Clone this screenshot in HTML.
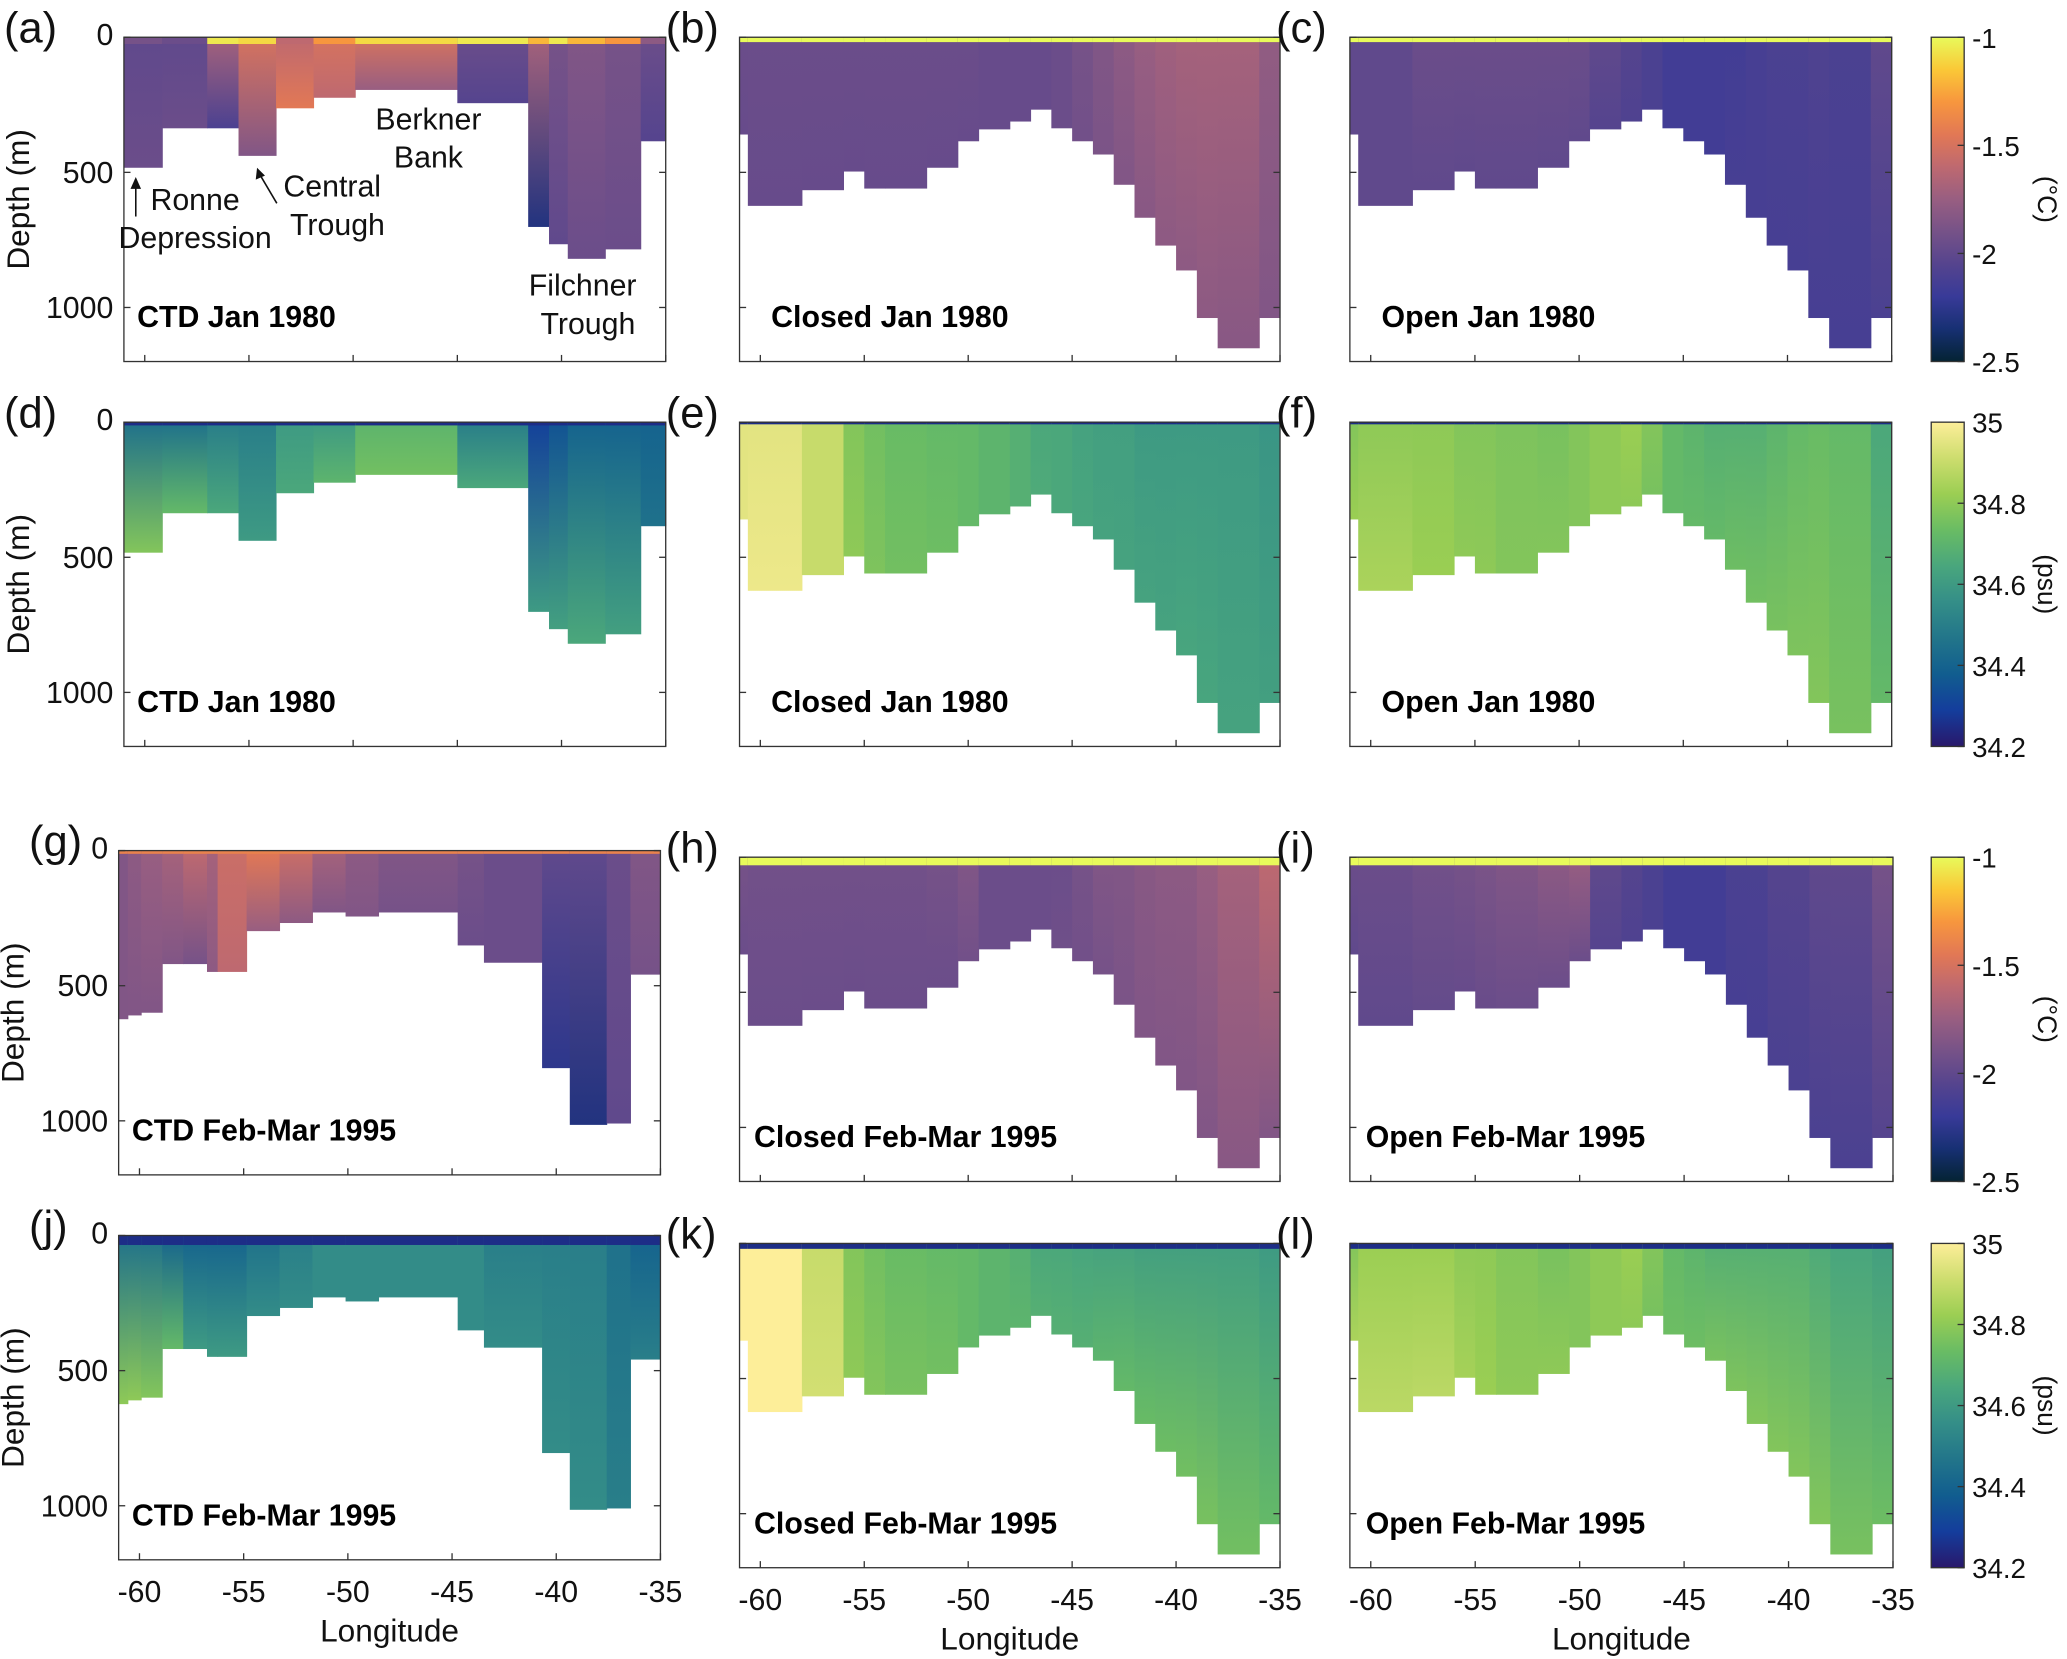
<!DOCTYPE html>
<html><head><meta charset="utf-8"><style>
html,body{margin:0;padding:0;background:#fff;}
svg{display:block;font-family:"Liberation Sans",sans-serif;}
</style></head><body>
<svg id="fig" width="2067" height="1659" viewBox="0 0 1568 1258" xmlns="http://www.w3.org/2000/svg">
<defs id="defs"></defs>
</svg>
<script>
// ---- data ----
const modelEdges = [-61,-60.6,-58,-56,-55,-54,-52,-50.5,-49.5,-48,-47,-46,-45,-44,-43,-42,-41,-40,-39,-38,-36,-35];
const modelBottom = [360,624,566,497,560,560,483,385,341,312,268,337,385,434,546,668,771,863,1039,1151,1039];
const ctd80Edges = [-61,-59.16,-57.0,-55.5,-53.7,-51.9,-49.9,-45.0,-41.6,-40.6,-39.7,-37.9,-36.2,-35.0];
const ctd80Bottom = [483,337,337,439,263,224,195,244,702,766,820,785,385];
const ctd95Edges = [-61,-60.56,-59.92,-58.91,-57.9,-56.76,-56.25,-54.86,-53.28,-51.7,-50.11,-48.53,-44.73,-43.47,-40.68,-39.35,-37.58,-36.44,-35];
const ctd95Bottom = [624,610,600,420,420,449,449,298,268,229,244,229,351,415,805,1015,1010,459];

const aSurf = [-1.9,-1.95,-1.05,-1.1,-1.6,-1.3,-1.1,-1.05,-1.2,-1.05,-1.2,-1.3,-1.8];
const aTop = [-2.0,-2.0,-1.7,-1.5,-1.6,-1.5,-1.5,-1.95,-1.7,-1.9,-1.85,-1.9,-1.95];
const aBot = [-1.95,-1.95,-2.1,-1.85,-1.45,-1.6,-1.75,-2.05,-2.3,-2.0,-1.95,-1.95,-2.05];
const dTop = [34.45,34.45,34.5,34.5,34.6,34.6,34.7,34.5,34.3,34.35,34.4,34.4,34.4];
const dBot = [34.78,34.72,34.65,34.6,34.65,34.7,34.75,34.65,34.6,34.62,34.65,34.62,34.45];
const bTop = [-1.95,-1.95,-1.95,-1.95,-1.95,-1.95,-1.95,-1.95,-1.97,-1.97,-1.97,-1.95,-1.9,-1.85,-1.8,-1.75,-1.72,-1.7,-1.7,-1.7,-1.78];
const bBot = [-1.97,-1.97,-1.97,-1.97,-1.97,-1.97,-1.97,-1.97,-1.97,-1.97,-1.97,-1.95,-1.92,-1.88,-1.85,-1.82,-1.8,-1.8,-1.8,-1.82,-1.85];
const cTop = [-2.0,-2.0,-1.95,-1.95,-1.95,-1.95,-1.95,-1.95,-2.0,-2.05,-2.1,-2.15,-2.15,-2.15,-2.15,-2.12,-2.1,-2.1,-2.08,-2.1,-2.0];
const cBot = [-2.0,-2.0,-2.0,-2.0,-2.0,-2.0,-2.0,-2.0,-2.05,-2.08,-2.1,-2.15,-2.15,-2.15,-2.12,-2.12,-2.12,-2.12,-2.12,-2.12,-2.1];
const eTop = [34.95,34.95,34.9,34.78,34.75,34.73,34.72,34.72,34.7,34.68,34.65,34.65,34.63,34.62,34.62,34.6,34.6,34.6,34.6,34.6,34.58];
const eBot = [34.95,34.97,34.9,34.8,34.77,34.75,34.74,34.72,34.7,34.68,34.66,34.65,34.64,34.63,34.63,34.63,34.63,34.64,34.64,34.63,34.62];
const fTop = [34.78,34.8,34.8,34.78,34.78,34.77,34.76,34.78,34.8,34.82,34.78,34.72,34.7,34.68,34.68,34.68,34.7,34.72,34.73,34.72,34.65];
const fBot = [34.82,34.85,34.82,34.8,34.8,34.78,34.78,34.78,34.8,34.8,34.76,34.72,34.72,34.72,34.74,34.75,34.76,34.77,34.78,34.76,34.72];
const gTop = [-1.85,-1.8,-1.75,-1.7,-1.6,-1.7,-1.55,-1.45,-1.55,-1.7,-1.8,-1.85,-1.9,-1.95,-2.0,-2.0,-1.95,-1.85];
const gBot = [-1.85,-1.85,-1.85,-1.85,-1.9,-1.8,-1.6,-1.75,-1.8,-1.85,-1.85,-1.9,-1.95,-1.95,-2.25,-2.3,-2.0,-1.9];
const hTop = [-1.9,-1.92,-1.92,-1.92,-1.92,-1.92,-1.9,-1.85,-1.95,-1.95,-1.95,-1.95,-1.9,-1.85,-1.85,-1.82,-1.8,-1.8,-1.75,-1.7,-1.6];
const hBot = [-1.95,-1.95,-1.95,-1.95,-1.95,-1.95,-1.95,-1.92,-1.95,-1.95,-1.95,-1.93,-1.92,-1.9,-1.88,-1.85,-1.85,-1.85,-1.85,-1.82,-1.85];
const iTop = [-1.95,-1.95,-1.92,-1.9,-1.88,-1.85,-1.8,-1.75,-2.0,-2.05,-2.1,-2.15,-2.15,-2.15,-2.1,-2.1,-2.05,-2.05,-2.0,-2.0,-1.9];
const iBot = [-2.0,-2.0,-1.98,-1.97,-1.96,-1.95,-1.95,-1.95,-2.05,-2.08,-2.1,-2.15,-2.15,-2.15,-2.12,-2.12,-2.1,-2.1,-2.1,-2.1,-2.05];
const jTop = [34.45,34.45,34.45,34.4,34.4,34.4,34.4,34.45,34.5,34.55,34.55,34.55,34.55,34.5,34.5,34.5,34.45,34.4];
const jBot = [34.8,34.8,34.78,34.72,34.6,34.6,34.6,34.55,34.55,34.55,34.55,34.55,34.55,34.55,34.55,34.55,34.5,34.5];
const kTop = [35.0,35.0,34.9,34.78,34.75,34.73,34.72,34.72,34.7,34.68,34.65,34.65,34.64,34.63,34.63,34.62,34.62,34.62,34.62,34.62,34.6];
const kBot = [35.0,35.0,34.92,34.8,34.78,34.76,34.75,34.72,34.7,34.7,34.68,34.68,34.68,34.7,34.72,34.73,34.74,34.75,34.76,34.75,34.72];
const lTop = [34.78,34.82,34.82,34.8,34.8,34.78,34.76,34.78,34.8,34.82,34.78,34.72,34.7,34.68,34.68,34.68,34.68,34.68,34.66,34.64,34.62];
const lBot = [34.85,34.88,34.88,34.84,34.82,34.8,34.8,34.78,34.8,34.8,34.76,34.74,34.74,34.76,34.77,34.78,34.78,34.78,34.78,34.76,34.74];

const lonTicks = [-60,-55,-50,-45,-40,-35];
const depthTicks = [0,500,1000];
const tempTicks = [-1,-1.5,-2,-2.5];
const salTicks = [35,34.8,34.6,34.4,34.2];

// ---- colormaps ----
const thermal = [[4,35,51],[23,48,115],[56,58,152],[85,68,142],[118,82,136],[152,94,129],[190,105,112],[226,120,85],[247,150,62],[250,200,55],[232,250,91]];
const haline = [[41,24,107],[20,61,156],[17,93,143],[34,117,138],[52,142,136],[73,166,125],[105,188,100],[155,206,83],[205,221,110],[253,238,153]];
function cmap(stops,t){t=Math.max(0,Math.min(1,t));const n=stops.length-1;const f=t*n;const i=Math.min(n-1,Math.floor(f));const u=f-i;const a=stops[i],b=stops[i+1];return 'rgb('+[0,1,2].map(k=>Math.round(a[k]+(b[k]-a[k])*u)).join(',')+')';}
const tempC = v=>cmap(thermal,(v+2.5)/1.5);
const salC = v=>cmap(haline,(v-34.2)/0.8);

const NS='http://www.w3.org/2000/svg';
const svg=document.getElementById('fig');
const defs=document.getElementById('defs');
function el(tag,attrs,parent){const e=document.createElementNS(NS,tag);for(const k in attrs)e.setAttribute(k,attrs[k]);(parent||svg).appendChild(e);return e;}
function txt(s,attrs,parent){const e=el('text',attrs,parent);e.textContent=s;return e;}
let gid=0;

const H=246, DMAX=1200;
const panels=[
 {id:'a',x0:94,x1:505,y0:28,edges:ctd80Edges,bot:ctd80Bottom,top:aTop,bt:aBot,c:tempC,surf:aSurf,sd:25,title:'CTD Jan 1980',lx:3,left:true},
 {id:'b',x0:561,x1:971,y0:28,edges:modelEdges,bot:modelBottom,top:bTop,bt:bBot,c:tempC,surf:-1.0,sd:18,title:'Closed Jan 1980',lx:505},
 {id:'c',x0:1024,x1:1435,y0:28,edges:modelEdges,bot:modelBottom,top:cTop,bt:cBot,c:tempC,surf:-1.0,sd:18,title:'Open Jan 1980',lx:968},
 {id:'d',x0:94,x1:505,y0:320,edges:ctd80Edges,bot:ctd80Bottom,top:dTop,bt:dBot,c:salC,surf:34.25,sd:12,title:'CTD Jan 1980',lx:3,left:true},
 {id:'e',x0:561,x1:971,y0:320,edges:modelEdges,bot:modelBottom,top:eTop,bt:eBot,c:salC,surf:34.25,sd:8,title:'Closed Jan 1980',lx:505},
 {id:'f',x0:1024,x1:1435,y0:320,edges:modelEdges,bot:modelBottom,top:fTop,bt:fBot,c:salC,surf:34.25,sd:8,title:'Open Jan 1980',lx:968},
 {id:'g',x0:90,x1:501,y0:645,edges:ctd95Edges,bot:ctd95Bottom,top:gTop,bt:gBot,c:tempC,surf:-1.4,sd:12,title:'CTD Feb-Mar 1995',lx:22,left:true},
 {id:'h',x0:561,x1:971,y0:650,edges:modelEdges,bot:modelBottom,top:hTop,bt:hBot,c:tempC,surf:-1.0,sd:30,title:'Closed Feb-Mar 1995',lx:505},
 {id:'i',x0:1024,x1:1436,y0:650,edges:modelEdges,bot:modelBottom,top:iTop,bt:iBot,c:tempC,surf:-1.0,sd:30,title:'Open Feb-Mar 1995',lx:968},
 {id:'j',x0:90,x1:501,y0:937,edges:ctd95Edges,bot:ctd95Bottom,top:jTop,bt:jBot,c:salC,surf:34.25,sd:35,title:'CTD Feb-Mar 1995',lx:22,left:true,xl:true},
 {id:'k',x0:561,x1:971,y0:943,edges:modelEdges,bot:modelBottom,top:kTop,bt:kBot,c:salC,surf:34.25,sd:20,title:'Closed Feb-Mar 1995',lx:505,xl:true},
 {id:'l',x0:1024,x1:1436,y0:943,edges:modelEdges,bot:modelBottom,top:lTop,bt:lBot,c:salC,surf:34.25,sd:20,title:'Open Feb-Mar 1995',lx:968,xl:true},
];

panels.forEach(p=>{
  const g=el('g',{});
  
  
  const xs=lon=>p.x0+(lon+61)/26*(p.x1-p.x0);
  const ys=d=>p.y0+d/DMAX*H;
  const gs=el('g',{},g);
  
  
  for(let i=0;i<p.bot.length;i++){
    const id='gr'+(gid++);
    const lg=el('linearGradient',{id:id,x1:0,y1:0,x2:0,y2:1},defs);
    el('stop',{offset:0,'stop-color':p.c(p.top[i])},lg);
    el('stop',{offset:1,'stop-color':p.c(p.bt[i])},lg);
    const x=xs(p.edges[i]), w=xs(p.edges[i+1])-x;
    const r=el('rect',{x:x,y:ys(0),width:w+0.4,height:ys(p.bot[i])-ys(0),fill:'url(#'+id+')'},gs);
    
    
    const sv=Array.isArray(p.surf)?p.surf[i]:p.surf;
    const s=el('rect',{x:x,y:ys(0),width:w+0.4,height:ys(p.sd)-ys(0),fill:p.c(sv)},gs);
    
    
  }
  const bx=el('rect',{x:p.x0,y:p.y0,width:p.x1-p.x0,height:H,fill:'none',stroke:'#333',"stroke-width":1},g);
  
  
  lonTicks.forEach(t=>{el('line',{x1:xs(t),x2:xs(t),y1:p.y0+H,y2:p.y0+H-5,stroke:'#333'},g);
    if(p.xl){const tl=txt(String(t),{x:xs(t),y:p.y0+H+32,'font-size':23,'text-anchor':'middle',fill:'#111'},g);
      
      }});
  depthTicks.forEach(t=>{el('line',{x1:p.x0,x2:p.x0+5,y1:ys(t),y2:ys(t),stroke:'#333'},g);
    el('line',{x1:p.x1,x2:p.x1-5,y1:ys(t),y2:ys(t),stroke:'#333'},g);
    if(p.left){const tl=txt(String(t),{x:p.x0-8,y:ys(t)+(t==0?6:8),'font-size':23,'text-anchor':'end',fill:'#111'},g);
      
      }});
  if(p.left){const yl=txt('Depth (m)',{x:0,y:0,'font-size':24,'text-anchor':'middle',fill:'#111',transform:'translate('+(p.x0-72)+','+(p.y0+123)+') rotate(-90)'},g);
    
    }
  if(p.xl){const xl=txt('Longitude',{x:(p.x0+p.x1)/2,y:p.y0+H+62,'font-size':24,'text-anchor':'middle',fill:'#111'},g);
    
    }
  const lb=txt('('+p.id+')',{x:p.lx,y:p.y0+4,'font-size':33,fill:'#111'},g);
  
  
  const tt=txt(p.title,{x:(p.left?p.x0+10:(p.id=='h'||p.id=='k'?572:(p.id=='i'||p.id=='l'?1036:p.x0+24))),y:p.y0+220,'font-size':23,'font-weight':'bold',fill:'#000'},g);
  
  
});

function colorbar(y0,isTemp,name){
  const g=el('g',{});
  
  
  const id='cb'+(gid++);
  const lg=el('linearGradient',{id:id,x1:0,y1:1,x2:0,y2:0},defs);
  const stops=isTemp?thermal:haline;
  stops.forEach((s,i)=>el('stop',{offset:i/(stops.length-1),'stop-color':'rgb('+s.join(',')+')'},lg));
  el('rect',{x:1465,y:y0,width:25,height:H,fill:'url(#'+id+')',stroke:'#333','stroke-width':1},g);
  const ticks=isTemp?tempTicks:salTicks;
  ticks.forEach(t=>{const y=isTemp?y0+(-1-t)/1.5*H:y0+(35-t)/0.8*H;
    el('line',{x1:1485,x2:1490,y1:y,y2:y,stroke:'#333'},g);
    const tl=txt(String(t),{x:1496,y:y+8,'font-size':21,fill:'#111'},g);
    
    });
  const u=txt(isTemp?'(°C)':'(psu)',{x:0,y:0,'font-size':20,'text-anchor':'middle',fill:'#111',transform:'translate(1546,'+(y0+123)+') rotate(90)'},g);
  
  
}
colorbar(28,true,'temperature-colorbar-top');
colorbar(320,false,'salinity-colorbar-top');
colorbar(650,true,'temperature-colorbar-bottom');
colorbar(943,false,'salinity-colorbar-bottom');

const ann=el('g',{});


[['Berkner',325,98],['Bank',325,127],['Ronne',148,159],['Depression',148,188],['Central',252,149],['Trough',256,178],['Filchner',442,224],['Trough',446,253]].forEach(a=>{
  txt(a[0],{x:a[1],y:a[2],'font-size':23,'text-anchor':'middle',fill:'#111'},ann);});
el('line',{x1:103,y1:164,x2:103,y2:140,stroke:'#111','stroke-width':1.2},ann);
el('path',{d:'M99,143 L103,134 L107,143 Z',fill:'#111'},ann);
el('line',{x1:210,y1:154,x2:197,y2:132,stroke:'#111','stroke-width':1.2},ann);
el('path',{d:'M194,136 L195,127 L201,133 Z',fill:'#111'},ann);
</script>
</body></html>
